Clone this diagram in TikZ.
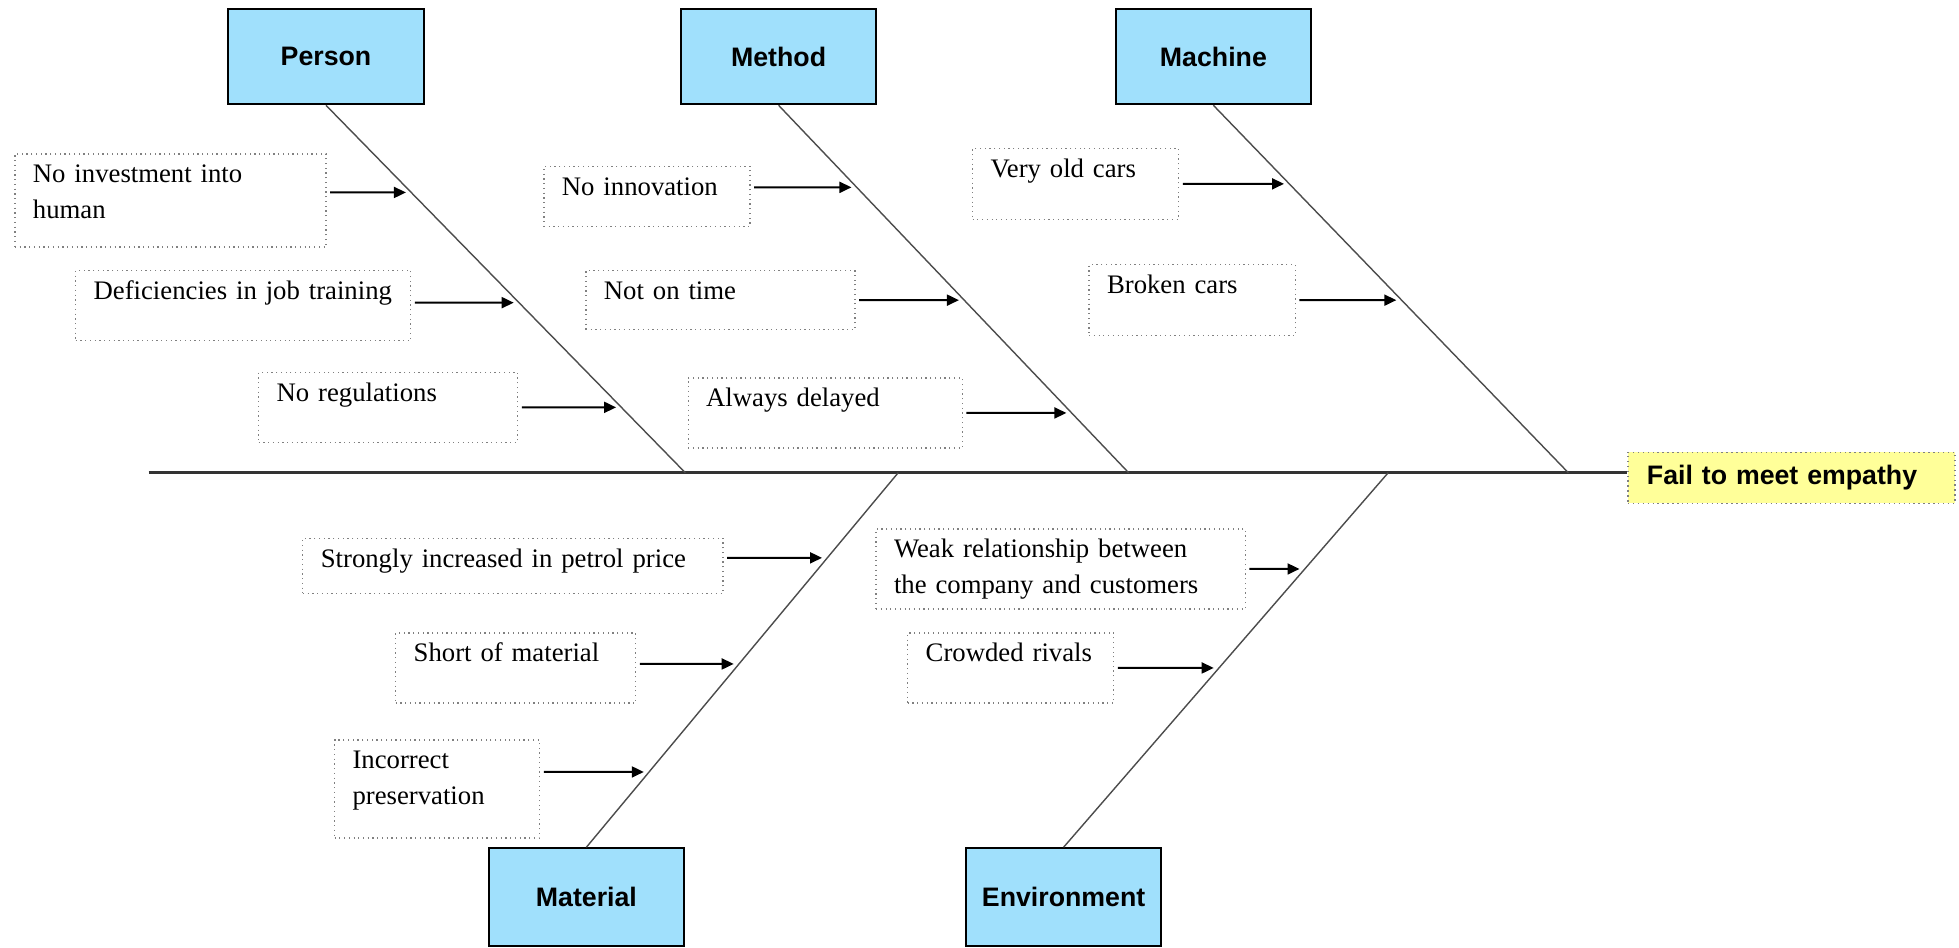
\documentclass[tikz,border=0pt]{standalone}
\usepackage{fontspec}
\setmainfont{Liberation Serif}
\setsansfont{Liberation Sans}
\usetikzlibrary{positioning,calc,intersections,arrows.meta}
\definecolor{BoneBlue}{RGB}{160,224,252}
\definecolor{HeadYellow}{RGB}{255,255,153}
\newcommand{\causefont}{\fontsize{7.6}{10}\selectfont}
\newcommand{\bonefont}{\sffamily\bfseries\fontsize{7.6}{10}\selectfont}
\tikzset{
	bone/.style={draw=black, line width=0.6pt, fill=BoneBlue, minimum width=1.95cm, minimum height=0.95cm, font=\bonefont},
	cause/.style={draw=gray, densely dotted, line width=0.35pt, anchor=north west, align=left, font=\causefont, inner xsep=0.18cm, inner ysep=0.1cm, text height=0.19cm},
	spine/.style={draw=black!70, line width=0.4pt},
	push/.style={draw=black, line width=0.55pt, -{Triangle[length=0.12cm,width=0.11cm]}, shorten <=1pt, shorten >=1.5pt},
}

\begin{document}
\begin{tikzpicture}[x=0.01cm, y=-0.01cm,
		goal/.style={draw=gray, densely dotted, fill=HeadYellow, align=left, text width=2.89cm, inner xsep=0.19cm, minimum height=0.51cm, font=\bonefont}]
	\useasboundingbox (0,0) rectangle (1959,947);
	% heads of the bones
	\node (person)   [bone] at (326,56.7)    {Person};
	\node (method)   [bone] at (778.6,56.7)  {Method};
	\node (machine)  [bone] at (1213.4,56.7) {Machine};
	\node (material) [bone, minimum height=0.98cm] at (586.4,897.3)  {Material};
	\node (environ)  [bone, minimum height=0.98cm] at (1063.6,897.3) {Environment};
	\node (goal) [goal] at (1791.5,477.8) {Fail to meet empathy};
	% backbone
	\coordinate (tail) at (148.7,472.7);
	\coordinate (fP) at (685.3,472.7);
	\coordinate (fM) at (1128.6,472.7);
	\coordinate (fC) at (1568.3,472.7);
	\coordinate (fT) at (898.2,472.7);
	\coordinate (fE) at (1388.2,472.7);
	\draw [line width=0.7pt, draw=black!80] (tail) -- (tail -| goal.west);
	\draw [spine] (person.south) -- (fP);
	\draw [spine] (method.south) -- (fM);
	\draw [spine] (machine.south) -- (fC);
	\draw [spine] (material.north) -- (fT);
	\draw [spine] (environ.north) -- (fE);
	% causes
	\node (inv)       [cause, text width=2.75cm, text depth=0.54cm] at (14.3,153.3)  {No investment into\\human};
	\node (def)       [cause, text width=2.99cm, text depth=0.31cm] at (75,270)      {Deficiencies in job training};
	\node (reg)       [cause, text width=2.23cm, text depth=0.31cm] at (258,371.7)   {No regulations};
	\node (innov)     [cause, text width=1.70cm, text depth=0.21cm] at (543.3,165.7) {No innovation};
	\node (ontime)    [cause, text width=2.33cm, text depth=0.20cm] at (585.3,270)   {Not on time};
	\node (delayed)   [cause, text width=2.38cm, text depth=0.31cm] at (687.5,377.3) {Always delayed};
	\node (veryold)   [cause, text width=1.70cm, text depth=0.32cm] at (971.9,147.7) {Very old cars};
	\node (broken)    [cause, text width=1.70cm, text depth=0.32cm] at (1088.4,264)  {Broken cars};
	\node (petrol)    [cause, text width=3.84cm, text depth=0.16cm] at (302.2,537.7) {Strongly increased in petrol price};
	\node (short)     [cause, text width=2.04cm, text depth=0.31cm] at (395.1,632.3) {Short of material};
	\node (incorrect) [cause, text width=1.69cm, text depth=0.59cm] at (333.9,739.3) {Incorrect\\preservation};
	\node (weak)      [cause, text width=3.33cm, text depth=0.41cm] at (875.4,528.3) {Weak relationship between\\the company and customers};
	\node (crowded)   [cause, text width=1.70cm, text depth=0.31cm] at (907.1,632.3) {Crowded rivals};
	\foreach \c/\s/\f/\dy in {inv/person.south/fP/0.08, def/person.south/fP/0.03, reg/person.south/fP/0,
			innov/method.south/fM/0.09, ontime/method.south/fM/0, delayed/method.south/fM/0,
			veryold/machine.south/fC/0, broken/machine.south/fC/0,
			petrol/material.north/fT/0.08, short/material.north/fT/0.04, incorrect/material.north/fT/0.17,
			weak/environ.north/fE/0, crowded/environ.north/fE/0}
	{
		\coordinate (a) at ([yshift=\dy cm]\c.east);
		\path [name path=bone] (\s) -- (\f);
		\path [name path=ray] (a) -- ++(5cm,0);
		\draw [push, name intersections={of=bone and ray, by=t}] (a) -- (t);
	}
\end{tikzpicture}
\end{document}
